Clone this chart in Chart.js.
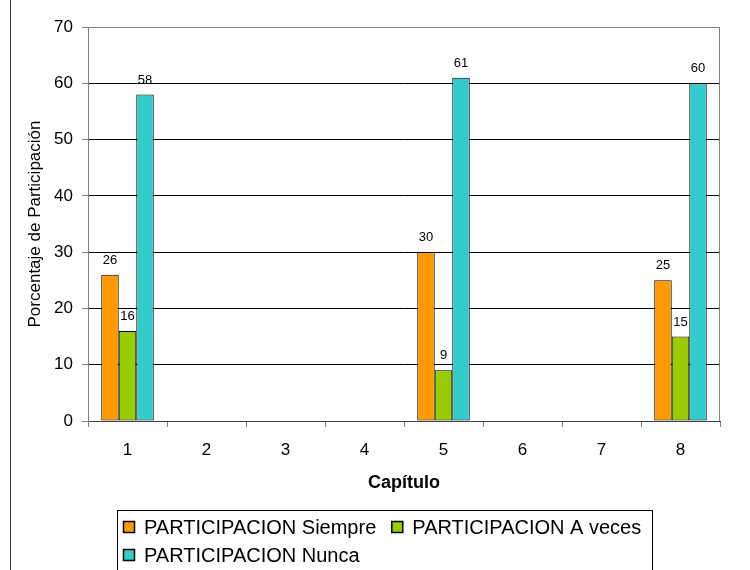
<!DOCTYPE html>
<html>
<head>
<meta charset="utf-8">
<script src="https://cdn.jsdelivr.net/npm/chart.js@4"></script>
<style>
  html, body { margin: 0; padding: 0; background: #fff; }
  #wrap { position: relative; width: 750px; height: 570px; }
</style>
</head>
<body>
<div id="wrap"><canvas id="c" width="750" height="570"></canvas></div>
<script>
const categories = ['1', '2', '3', '4', '5', '6', '7', '8'];
const seriesNames = ['PARTICIPACION Siempre', 'PARTICIPACION A veces', 'PARTICIPACION Nunca'];
const siempre = [26, null, null, null, 30, null, null, 25];
const aVeces  = [16, null, null, null, 9, null, null, 15];
const nunca   = [58, null, null, null, 61, null, null, 60];
const yTicks = [0, 10, 20, 30, 40, 50, 60, 70];
const colors = ['#FF9900', '#99CC00', '#33CCCC'];

const FONT = "Arial, 'Liberation Sans', sans-serif";

const valueLabels = {
  id: 'valueLabels',
  afterDatasetsDraw(chart) {
    const ctx = chart.ctx;
    ctx.save();
    ctx.font = '13px ' + FONT;
    ctx.fillStyle = '#000';
    ctx.textAlign = 'center';
    ctx.textBaseline = 'alphabetic';
    chart.data.datasets.forEach((ds, i) => {
      const meta = chart.getDatasetMeta(i);
      meta.data.forEach((el, j) => {
        const v = ds.data[j];
        if (v === null || v === undefined) return;
        ctx.fillText(String(v), el.x, el.y - 11);
      });
    });
    ctx.restore();
  }
};

const frame = {
  id: 'frame',
  beforeDraw(chart) {
    const ctx = chart.ctx;
    ctx.save();
    ctx.fillStyle = '#fff';
    ctx.fillRect(0, 0, chart.width, chart.height);
    ctx.strokeStyle = '#404040';
    ctx.lineWidth = 1;
    ctx.beginPath();
    ctx.moveTo(10.5, 0);
    ctx.lineTo(10.5, chart.height);
    ctx.stroke();
    ctx.restore();
  },
  beforeDatasetsDraw(chart) {
    const a = chart.chartArea;
    const ctx = chart.ctx;
    ctx.save();
    ctx.strokeStyle = '#808080';
    ctx.lineWidth = 1;
    ctx.beginPath();
    ctx.moveTo(Math.round(a.left) + 0.5, Math.round(a.top) + 0.5);
    ctx.lineTo(Math.round(a.right) - 0.5, Math.round(a.top) + 0.5);
    ctx.lineTo(Math.round(a.right) - 0.5, Math.round(a.bottom));
    ctx.stroke();
    ctx.restore();
  },
  afterDraw(chart) {
    const ctx = chart.ctx;
    ctx.save();
    const boxL = 117, boxT = 510, boxR = 652;
    ctx.strokeStyle = '#000';
    ctx.lineWidth = 1;
    ctx.strokeRect(boxL + 0.5, boxT + 0.5, boxR - boxL, 80);
    ctx.font = '20px ' + FONT;
    ctx.textBaseline = 'middle';
    ctx.textAlign = 'left';
    const rows = [[0, 1], [2]];
    const rowY = [527, 555];
    rows.forEach((row, r) => {
      let x = boxL + 6;
      row.forEach(i => {
        const ds = chart.data.datasets[i];
        const y = rowY[r];
        ctx.fillStyle = ds.backgroundColor;
        ctx.fillRect(x, y - 6, 11, 11);
        ctx.strokeStyle = '#000';
        ctx.lineWidth = 1.5;
        ctx.strokeRect(x + 0.5, y - 5.5, 11, 11);
        ctx.fillStyle = '#000';
        ctx.fillText(ds.label, x + 21, y + 1);
        x += 21 + ctx.measureText(ds.label).width + 15;
      });
    });
    ctx.restore();
  }
};

new Chart(document.getElementById('c'), {
  type: 'bar',
  data: {
    labels: categories,
    datasets: [
      { label: seriesNames[0], data: siempre, backgroundColor: colors[0] },
      { label: seriesNames[1], data: aVeces, backgroundColor: colors[1] },
      { label: seriesNames[2], data: nunca, backgroundColor: colors[2] }
    ].map(d => Object.assign(d, { borderColor: '#000', borderWidth: 1, borderSkipped: false, barPercentage: 1, categoryPercentage: 0.665 }))
  },
  options: {
    responsive: false,
    animation: false,
    devicePixelRatio: 1,
    layout: { padding: { top: 27, right: 30, bottom: 76, left: 0 } },
    plugins: {
      legend: { display: false },
      tooltip: { enabled: false },
      title: { display: false }
    },
    scales: {
      x: {
        afterFit(s) { s.height = 73; },
        grid: { offset: true, drawOnChartArea: false, drawTicks: true, tickLength: 6, color: '#808080' },
        border: { color: '#404040' },
        ticks: { color: '#000', font: { family: FONT, size: 17 }, padding: 13, maxRotation: 0 },
        title: { display: true, text: 'Capítulo', color: '#000', font: { family: FONT, size: 18, weight: 'bold' }, padding: { top: 0, bottom: 0 } }
      },
      y: {
        min: 0, max: 70,
        afterFit(s) { s.width = 88; },
        afterBuildTicks(s) { s.ticks = yTicks.map(v => ({ value: v })); },
        grid: {
          color: c => (c.tick && c.tick.value === 70) ? '#808080' : '#000',
          tickColor: '#808080',
          tickLength: 6,
          drawTicks: true
        },
        border: { color: '#808080' },
        ticks: { color: '#000', font: { family: FONT, size: 17 }, padding: 9, stepSize: 10 },
        title: { display: true, text: 'Porcentaje de Participación', color: '#000', font: { family: FONT, size: 17 }, padding: { top: 25, bottom: 0 } }
      }
    }
  },
  plugins: [frame, valueLabels]
});
</script>
</body>
</html>
